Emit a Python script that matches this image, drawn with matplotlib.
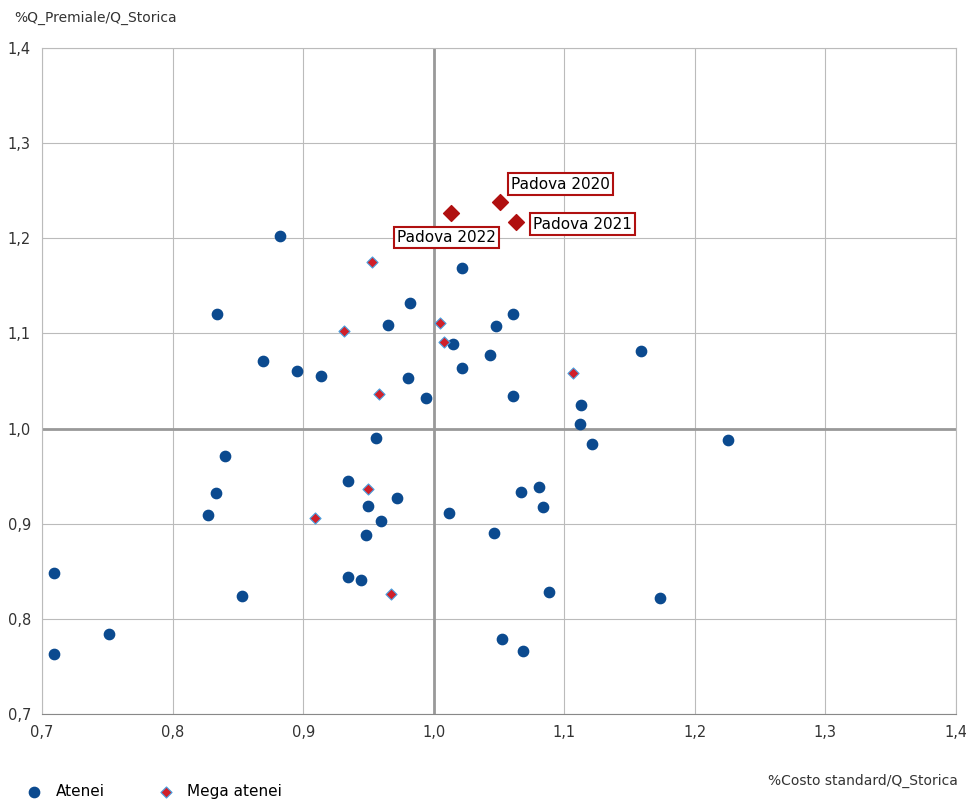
import matplotlib
matplotlib.use("Agg")
import matplotlib.pyplot as plt
from matplotlib.ticker import FuncFormatter

atenei_x = [0.882,0.834,0.869,0.895,0.914,0.982,0.965,1.022,1.015,1.048,1.061,1.043,1.022,0.980,0.994,1.061,1.159,1.113,1.112,1.121,1.225,0.956,0.840,0.833,0.827,0.934,0.972,0.950,0.960,0.948,1.012,1.046,1.067,1.081,1.084,0.709,0.709,0.751,0.853,0.934,0.944,1.088,1.173,1.052,1.068]
atenei_y = [1.202,1.120,1.071,1.060,1.055,1.132,1.109,1.169,1.089,1.108,1.120,1.077,1.064,1.053,1.032,1.034,1.082,1.025,1.005,0.984,0.988,0.990,0.971,0.932,0.909,0.945,0.927,0.919,0.903,0.888,0.911,0.890,0.933,0.939,0.918,0.848,0.763,0.784,0.824,0.844,0.841,0.828,0.822,0.779,0.766]
mega_x = [0.953,0.931,1.005,1.008,0.958,1.107,0.950,0.909,0.967]
mega_y = [1.175,1.103,1.111,1.091,1.036,1.058,0.936,0.906,0.826]
padova_labels = ["Padova 2022","Padova 2020","Padova 2021"]
padova_x = [1.013,1.051,1.063]
padova_y = [1.227,1.238,1.217]

fig = plt.figure(figsize=(9.66,7.99), dpi=100)
ax = fig.add_axes([42/966, 1-714/799, 914/966, 666/799])
ax.set_xlim(0.7,1.4); ax.set_ylim(0.7,1.4)
ticks = [0.7,0.8,0.9,1.0,1.1,1.2,1.3,1.4]
ax.set_xticks(ticks); ax.set_yticks(ticks)
fmt = FuncFormatter(lambda v,p: f"{v:.1f}".replace(".",","))
ax.xaxis.set_major_formatter(fmt); ax.yaxis.set_major_formatter(fmt)
ax.grid(True, color="#bbbbbb", lw=0.8)
ax.set_axisbelow(True)
ax.axvline(1.0, color="#999999", lw=2, zorder=1)
ax.axhline(1.0, color="#999999", lw=2, zorder=1)
for s in ax.spines.values():
    s.set_color("#bbbbbb")
ax.spines['bottom'].set_color("#888888")
ax.tick_params(length=0, labelsize=10.5, colors="#333333", pad=8)

ax.scatter(atenei_x, atenei_y, s=55, color="#0b4a8f", zorder=3, label="Atenei")
ax.scatter(mega_x, mega_y, s=32, marker="D", color="#d0202a", edgecolor="#4aa0e0", linewidth=0.8, zorder=3, label="Mega atenei")
ax.scatter(padova_x, padova_y, s=65, marker="D", color="#b01010", zorder=4)
pos = {"Padova 2022":(0.972,1.201), "Padova 2020":(1.059,1.257), "Padova 2021":(1.076,1.215)}
box = dict(boxstyle="square,pad=0.2", fc="white", ec="#b01010", lw=1.5)
for l in padova_labels:
    x,y = pos[l]
    ax.text(x,y,l,fontsize=11,va="center",ha="left",bbox=box,zorder=5)

fig.text(14/966, 1-18/799, "%Q_Premiale/Q_Storica", fontsize=10, color="#333333", va="center")
fig.text(958/966, 1-781/799, "%Costo standard/Q_Storica", fontsize=10, color="#333333", va="center", ha="right")
ax.legend(loc="upper left", bbox_to_anchor=(-0.04,-0.085), ncol=2, frameon=False, fontsize=11, columnspacing=3, handletextpad=0.4)
fig.savefig("out.png", dpi=100)
